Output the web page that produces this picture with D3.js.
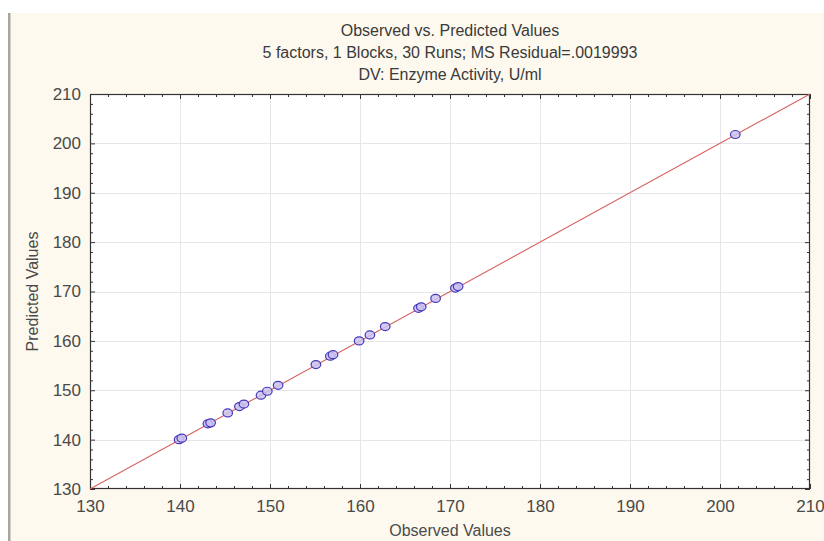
<!DOCTYPE html>
<html>
<head>
<meta charset="utf-8">
<script src="https://cdn.jsdelivr.net/npm/d3@7"></script>
<style>
  html, body { margin: 0; padding: 0; background: #ffffff; }
  svg { display: block; font-family: "Liberation Sans", Arial, sans-serif; }
</style>
</head>
<body>
<svg id="chart" width="824" height="541"></svg>
<script>
// Observed vs. predicted enzyme activity (U/ml), one entry per visible run
const observed  = [139.9, 140.2, 143.1, 143.4, 145.3, 146.6, 147.1, 149.0, 149.7, 150.9,
                   155.1, 156.7, 157.0, 159.9, 161.1, 162.8, 166.5, 166.8, 168.4, 170.6,
                   170.9, 201.7];
const predicted = [140.0, 140.3, 143.2, 143.4, 145.4, 146.7, 147.2, 149.0, 149.8, 151.0,
                   155.2, 156.9, 157.2, 160.0, 161.2, 162.9, 166.6, 166.9, 168.6, 170.7,
                   171.0, 201.8];
const tickValues = [130, 140, 150, 160, 170, 180, 190, 200, 210];
const titleLines = ["Observed vs. Predicted Values",
                    "5 factors, 1 Blocks, 30 Runs; MS Residual=.0019993",
                    "DV: Enzyme Activity, U/ml"];

const svg = d3.select("#chart");
const W = 824, H = 541;
const plot = { left: 90, right: 810, top: 94, bottom: 489 };
const textColor = "#4a4a4a";

// panel background with the window edge on the left
svg.append("rect").attr("x", 8).attr("y", 13).attr("width", W - 8).attr("height", H - 13)
  .attr("fill", "#fdf9ee");
svg.append("rect").attr("x", 8).attr("y", 13).attr("width", 2.5).attr("height", H - 13)
  .attr("fill", "#a9a59d");

const x = d3.scaleLinear().domain([130, 210]).range([plot.left, plot.right]);
const y = d3.scaleLinear().domain([130, 210]).range([plot.bottom, plot.top]);

svg.append("rect")
  .attr("x", plot.left).attr("y", plot.top)
  .attr("width", plot.right - plot.left).attr("height", plot.bottom - plot.top)
  .attr("fill", "#ffffff");

// grid lines at major ticks
const grid = svg.append("g").attr("stroke", "#e6e6ea").attr("stroke-width", 1);
tickValues.slice(1, -1).forEach(v => {
  grid.append("line").attr("x1", x(v) + 0.5).attr("x2", x(v) + 0.5)
    .attr("y1", plot.top).attr("y2", plot.bottom);
  grid.append("line").attr("y1", Math.round(y(v)) + 0.5).attr("y2", Math.round(y(v)) + 0.5)
    .attr("x1", plot.left).attr("x2", plot.right);
});

// inward ticks on all four sides (minor every 2 units)
const minor = d3.range(130, 210.01, 2).filter(v => v % 10 !== 0);
function sideAxis(axisFn, scale, ticks, size, transform) {
  const g = svg.append("g").attr("transform", transform)
    .call(axisFn(scale).tickValues(ticks).tickSize(size).tickFormat(""));
  g.select(".domain").remove();
  g.selectAll("line").attr("stroke", "#333").attr("stroke-width", 1);
  return g;
}
[[tickValues, 5], [minor, 3]].forEach(([t, s]) => {
  sideAxis(d3.axisTop, x, t, s, `translate(0,${plot.bottom})`);
  sideAxis(d3.axisBottom, x, t, s, `translate(0,${plot.top})`);
  sideAxis(d3.axisRight, y, t, s, `translate(${plot.left},0)`);
  sideAxis(d3.axisLeft, y, t, s, `translate(${plot.right},0)`);
});

// frame
svg.append("rect")
  .attr("x", plot.left + 0.5).attr("y", plot.top + 0.5)
  .attr("width", plot.right - plot.left - 1).attr("height", plot.bottom - plot.top - 1)
  .attr("fill", "none").attr("stroke", "#333").attr("stroke-width", 1.2);

// tick labels
const xLab = d3.axisBottom(x).tickValues(tickValues).tickSize(0).tickPadding(0);
const gx = svg.append("g").attr("transform", `translate(0,${plot.bottom + 11})`).call(xLab);
gx.select(".domain").remove();
gx.selectAll("text").attr("font-size", 17).attr("fill", textColor)
  .attr("font-family", "Liberation Sans, Arial, sans-serif");

const yLab = d3.axisLeft(y).tickValues(tickValues).tickSize(0).tickPadding(0);
const gy = svg.append("g").attr("transform", `translate(${plot.left - 9},0)`).call(yLab);
gy.select(".domain").remove();
gy.selectAll("text").attr("font-size", 17).attr("fill", textColor)
  .attr("font-family", "Liberation Sans, Arial, sans-serif");

// identity line
svg.append("line")
  .attr("x1", x(130)).attr("y1", y(130)).attr("x2", x(210)).attr("y2", y(210))
  .attr("stroke", "#d8605f").attr("stroke-width", 1.1);

// observations
svg.append("g").selectAll("ellipse")
  .data(observed.map((o, i) => [o, predicted[i]]))
  .join("ellipse")
  .attr("cx", d => x(d[0])).attr("cy", d => y(d[1])).attr("rx", 4.8).attr("ry", 4)
  .attr("fill", "#cbc2f0").attr("fill-opacity", 0.85)
  .attr("stroke", "#4338b8").attr("stroke-width", 1.2);

// titles
svg.append("g").selectAll("text").data(titleLines).join("text")
  .attr("x", (plot.left + plot.right) / 2).attr("y", (d, i) => 36 + i * 22)
  .attr("text-anchor", "middle").attr("font-size", 16).attr("fill", "#3a3a3a")
  .text(d => d);

svg.append("text").attr("x", (plot.left + plot.right) / 2).attr("y", 536)
  .attr("text-anchor", "middle").attr("font-size", 16).attr("fill", textColor)
  .text("Observed Values");
svg.append("text")
  .attr("transform", `translate(38,${(plot.top + plot.bottom) / 2}) rotate(-90)`)
  .attr("text-anchor", "middle").attr("font-size", 16).attr("fill", textColor)
  .text("Predicted Values");
</script>
</body>
</html>
